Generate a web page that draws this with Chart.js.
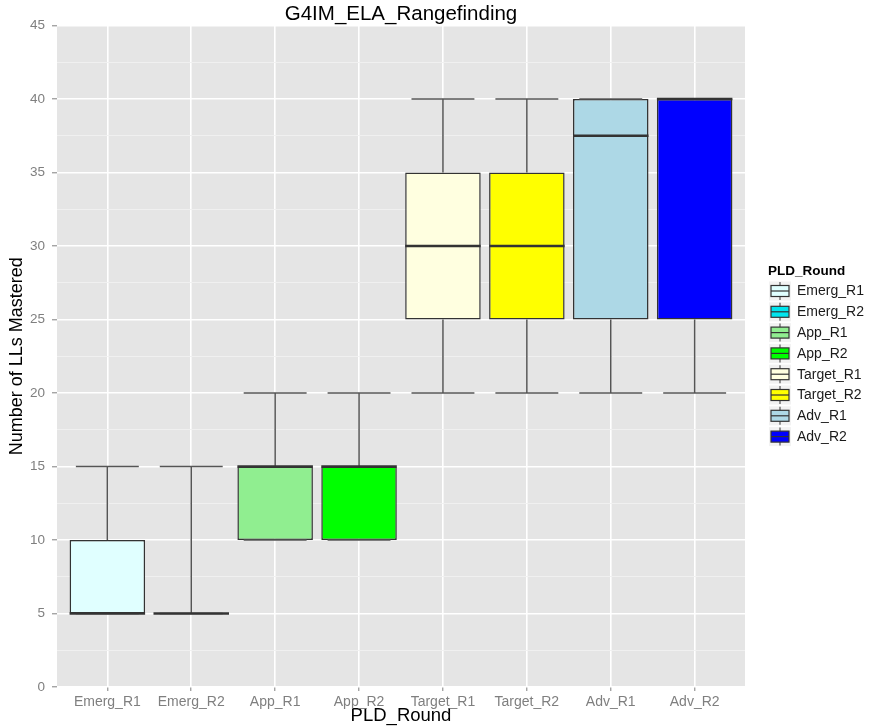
<!DOCTYPE html>
<html>
<head>
<meta charset="utf-8">
<title>G4IM_ELA_Rangefinding</title>
<script src="https://cdn.jsdelivr.net/npm/chart.js@4.4.1/dist/chart.umd.min.js"></script>
<style>
  html, body { margin: 0; padding: 0; background: #ffffff; }
  #wrap { width: 870px; height: 728px; }
</style>
</head>
<body>
<div id="wrap"><canvas id="chBox" width="870" height="728"></canvas></div>
<script>
var categories = ['Emerg_R1', 'Emerg_R2', 'App_R1', 'App_R2', 'Target_R1', 'Target_R2', 'Adv_R1', 'Adv_R2'];
var whiskerLow = [5, 5, 10, 10, 20, 20, 20, 20];
var boxLow = [5, 5, 10, 10, 25, 25, 25, 25];
var medians = [5, 5, 15, 15, 30, 30, 37.5, 40];
var boxHigh = [10, 5, 15, 15, 35, 35, 40, 40];
var whiskerHigh = [15, 15, 20, 20, 40, 40, 40, 40];
var fillColors = ['#E0FFFF', '#00E5EE', '#90EE90', '#00FF00', '#FFFFE0', '#FFFF00', '#ADD8E6', '#0000FF'];
var yMax = 45;
var yMajorStep = 5;

Chart.defaults.font.family = '"Liberation Sans", Arial, sans-serif';

var boxData = categories.map(function (c, i) {
    return { x: i, y: [boxLow[i], boxHigh[i]] };
});

// grey panel behind the grid
var panelBg = {
    id: 'panelBg',
    beforeDraw: function (chart) {
        var a = chart.chartArea, ctx = chart.ctx;
        ctx.save();
        ctx.fillStyle = '#E5E5E5';
        ctx.fillRect(a.left, a.top, a.right - a.left, a.bottom - a.top);
        ctx.restore();
    }
};

// whiskers with caps and the median bars
var boxParts = {
    id: 'boxParts',
    afterDatasetsDraw: function (chart) {
        var ctx = chart.ctx;
        var xs = chart.scales.x, ys = chart.scales.y;
        var unit = xs.getPixelForValue(1) - xs.getPixelForValue(0);
        var bars = chart.getDatasetMeta(0).data;
        ctx.save();
        categories.forEach(function (c, i) {
            var cx = xs.getPixelForValue(i);
            var capHalf = unit * 0.375;
            var yLo = ys.getPixelForValue(whiskerLow[i]);
            var yHi = ys.getPixelForValue(whiskerHigh[i]);
            var yQ1 = ys.getPixelForValue(boxLow[i]);
            var yQ3 = ys.getPixelForValue(boxHigh[i]);
            ctx.strokeStyle = '#555555';
            ctx.lineWidth = 1.5;
            ctx.beginPath();
            ctx.moveTo(cx, yQ3); ctx.lineTo(cx, yHi);
            ctx.moveTo(cx, yQ1); ctx.lineTo(cx, yLo);
            ctx.moveTo(cx - capHalf, yHi); ctx.lineTo(cx + capHalf, yHi);
            ctx.moveTo(cx - capHalf, yLo); ctx.lineTo(cx + capHalf, yLo);
            ctx.stroke();

            var half = bars[i].width / 2;
            var ym = ys.getPixelForValue(medians[i]);
            ctx.strokeStyle = '#333333';
            ctx.lineWidth = 2.6;
            ctx.beginPath();
            ctx.moveTo(cx - half, ym); ctx.lineTo(cx + half, ym);
            ctx.stroke();
        });
        ctx.restore();
    }
};

// legend with small boxplot keys at the right
var boxLegend = {
    id: 'boxLegend',
    afterDraw: function (chart) {
        var ctx = chart.ctx;
        var x0 = chart.chartArea.right + 23;
        var y0 = 271;
        var step = 20.8;
        ctx.save();
        ctx.fillStyle = '#000000';
        ctx.font = 'bold 13.5px "Liberation Sans", Arial, sans-serif';
        ctx.textBaseline = 'middle';
        ctx.textAlign = 'left';
        ctx.fillText('PLD_Round', x0, y0);
        categories.forEach(function (c, i) {
            var cy = y0 + 20 + step * i;
            var kx = x0 + 1;
            ctx.fillStyle = '#F2F2F2';
            ctx.fillRect(kx, cy - 9.5, 22, 19);
            ctx.strokeStyle = '#555555';
            ctx.lineWidth = 1.2;
            ctx.beginPath();
            ctx.moveTo(kx + 11, cy - 9); ctx.lineTo(kx + 11, cy + 9);
            ctx.stroke();
            ctx.fillStyle = fillColors[i];
            ctx.fillRect(kx + 2, cy - 5.5, 18, 11);
            ctx.strokeStyle = '#333333';
            ctx.lineWidth = 1.2;
            ctx.strokeRect(kx + 2, cy - 5.5, 18, 11);
            ctx.beginPath();
            ctx.moveTo(kx + 2, cy); ctx.lineTo(kx + 20, cy);
            ctx.stroke();
            ctx.fillStyle = '#1A1A1A';
            ctx.font = '14px "Liberation Sans", Arial, sans-serif';
            ctx.fillText(c, x0 + 29, cy + 0.5);
        });
        ctx.restore();
    }
};

var chBox = document.getElementById('chBox').getContext('2d');
var boxChart = new Chart(chBox, {
    type: 'bar',
    data: {
        datasets: [{
            label: 'PLD_Round',
            data: boxData,
            backgroundColor: fillColors,
            borderColor: '#333333',
            borderWidth: 1.5,
            borderSkipped: false,
            barPercentage: 0.9,
            categoryPercentage: 1
        }]
    },
    options: {
        responsive: false,
        animation: false,
        layout: { padding: { right: 125 } },
        plugins: {
            legend: { display: false },
            tooltip: { enabled: false },
            title: {
                display: true,
                text: 'G4IM_ELA_Rangefinding',
                fullSize: false,
                color: '#000000',
                font: { size: 20.5, weight: 'normal', lineHeight: 1.1 },
                padding: { top: 3, bottom: 0 }
            }
        },
        scales: {
            x: {
                type: 'linear',
                offset: false,
                min: -0.6,
                max: categories.length - 0.4,
                afterFit: function (scale) { scale.height = 41; },
                border: { display: false },
                grid: {
                    offset: false,
                    color: '#FFFFFF',
                    lineWidth: 1.6,
                    tickLength: 4,
                    tickColor: '#7F7F7F',
                    tickWidth: 1
                },
                ticks: {
                    stepSize: 1,
                    includeBounds: false,
                    autoSkip: false,
                    maxRotation: 0,
                    padding: 3,
                    color: '#7F7F7F',
                    font: { size: 14 },
                    callback: function (v) {
                        return Number.isInteger(v) ? categories[v] : '';
                    }
                },
                title: {
                    display: true,
                    text: 'PLD_Round',
                    color: '#000000',
                    font: { size: 18.5 },
                    padding: { top: 0, bottom: 1 }
                }
            },
            y: {
                min: 0,
                max: yMax,
                afterFit: function (scale) { scale.width = 57; },
                border: { display: false },
                grid: {
                    color: function (ctx) {
                        return ctx.tick && ctx.tick.value % yMajorStep === 0 ? '#FFFFFF' : '#F0F0F0';
                    },
                    lineWidth: function (ctx) {
                        return ctx.tick && ctx.tick.value % yMajorStep === 0 ? 1.6 : 0.9;
                    },
                    tickLength: 5,
                    tickColor: function (ctx) {
                        return ctx.tick && ctx.tick.value % yMajorStep === 0 ? '#7F7F7F' : 'rgba(0,0,0,0)';
                    },
                    tickWidth: 1
                },
                ticks: {
                    stepSize: yMajorStep / 2,
                    padding: 7,
                    color: '#7F7F7F',
                    font: { size: 13.5 },
                    callback: function (v) {
                        return v % yMajorStep === 0 ? v : '';
                    }
                },
                title: {
                    display: true,
                    text: 'Number of LLs Mastered',
                    color: '#000000',
                    font: { size: 18 },
                    padding: { top: 6, bottom: 0 }
                }
            }
        }
    },
    plugins: [panelBg, boxParts, boxLegend]
});
</script>
</body>
</html>
